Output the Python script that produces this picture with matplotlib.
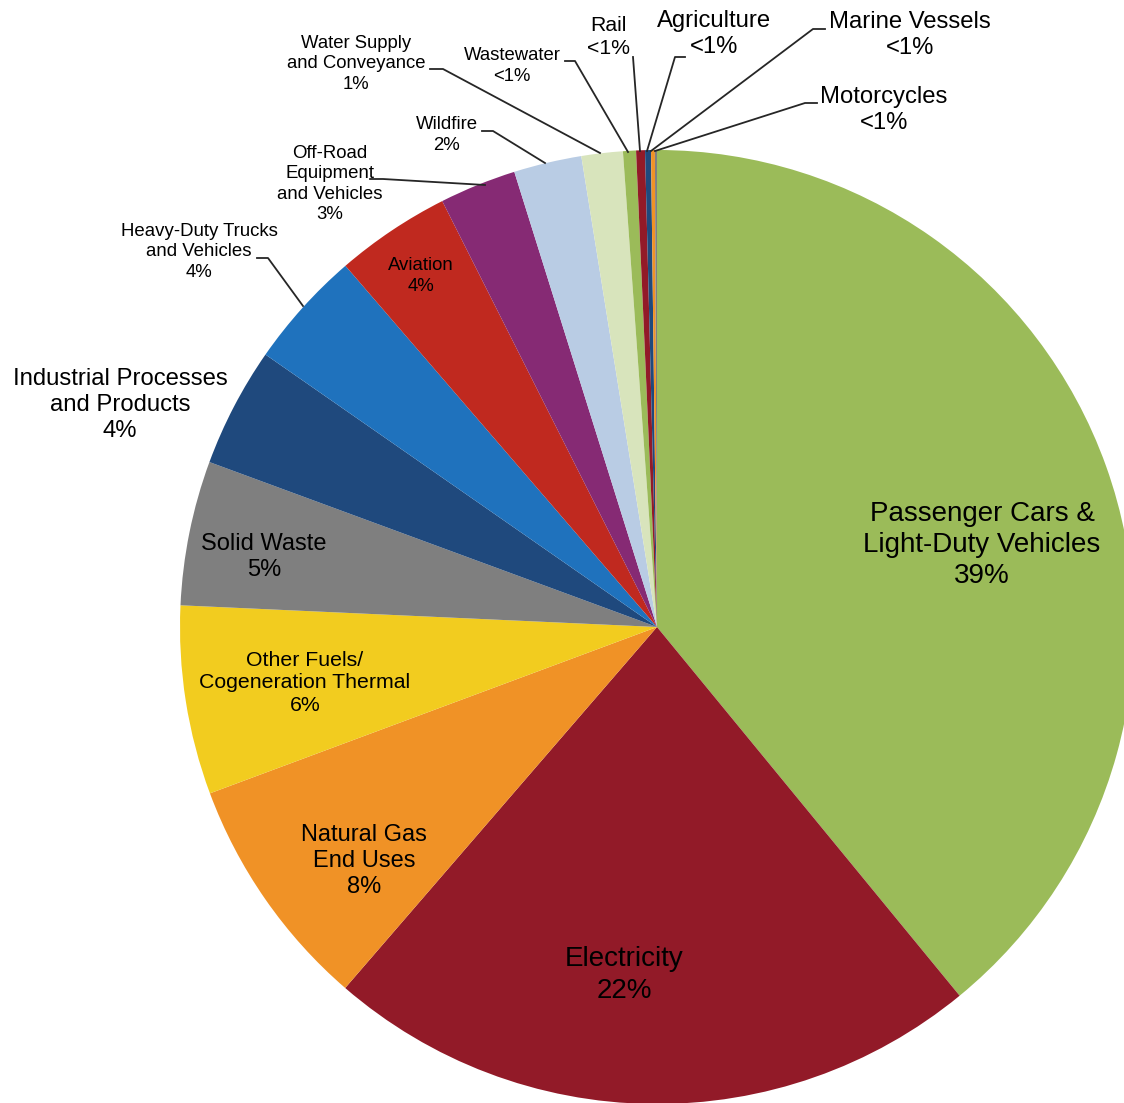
import matplotlib.pyplot as plt
import numpy as np

plt.rcParams['font.family'] = ['Liberation Sans', 'DejaVu Sans']

# Dane
kategorie = ["Passenger Cars &\nLight-Duty Vehicles", "Electricity", "Natural Gas\nEnd Uses",
             "Other Fuels/\nCogeneration Thermal", "Solid Waste", "Industrial Processes\nand Products",
             "Heavy-Duty Trucks\nand Vehicles", "Aviation", "Off-Road\nEquipment\nand Vehicles",
             "Wildfire", "Water Supply\nand Conveyance", "Wastewater", "Rail", "Agriculture",
             "Marine Vessels", "Motorcycles"]
udzial = [39.1, 22.3, 8.0, 6.4, 4.9, 4.06, 4.0, 3.9, 2.6, 2.3, 1.4, 0.44, 0.30, 0.2, 0.13, 0.07]
etykiety_proc = ["39%", "22%", "8%", "6%", "5%", "4%", "4%", "4%", "3%", "2%", "1%",
                 "<1%", "<1%", "<1%", "<1%", "<1%"]
kolory = ["#9BBB59", "#921A28", "#F09226", "#F2CC1F", "#7F7F7F", "#1F497D", "#1F72BD",
          "#C0291F", "#862A74", "#B9CCE4", "#D8E4BC", "#9BBB59", "#921A28", "#1F497D",
          "#F09226", "#7F7F7F"]

# Piksele -> wspolrzedne (srodek kola 657,627, promien 477)
CX, CY, R = 657, 627, 477


def px(x, y):
    return (x - CX) / R, (CY - y) / R


# pozycja etykiety (px), rozmiar czcionki, linia odniesienia (px)
ustawienia = [
    ((982, 545), 20, None),
    ((624, 975), 20, None),
    ((364, 861), 17, None),
    ((305, 683), 15.3, None),
    ((264, 557), 17, None),
    ((120, 405), 17.2, None),
    ((199, 252), 13.4, [(257, 258), (268, 258), (303, 306)]),
    ((421, 276), 13.4, None),
    ((330, 184), 13.4, [(370, 179), (383, 179), (485, 185)]),
    ((447, 135), 13.4, [(482, 131), (493, 131), (545, 163)]),
    ((356, 64), 13.3, [(430, 69), (443, 69), (600, 153)]),
    ((512, 66), 13.3, [(565, 61), (575, 61), (628, 152)]),
    ((608, 37), 15.3, [(633, 57), (640, 151)]),
    ((714, 34), 17.2, [(685, 57), (675, 57), (647, 151)]),
    ((910, 35), 17.2, [(825, 29), (813, 29), (651, 151)]),
    ((884, 110), 17.2, [(817, 103), (805, 103), (655, 151)]),
]

if __name__ == "__main__":
    fig = plt.figure(figsize=(11.24, 11.03), dpi=100)
    ax = fig.add_axes([0, 0, 1, 1])
    ax.pie(udzial, colors=kolory, startangle=90, counterclock=False, radius=1,
           wedgeprops=dict(linewidth=0))

    for nazwa, proc, (poz, rozm, linia) in zip(kategorie, etykiety_proc, ustawienia):
        x, y = px(*poz)
        ax.text(x, y, nazwa + "\n" + proc, ha="center", va="center", fontsize=rozm,
                linespacing=1.25, color="black")
        if linia is not None:
            pts = np.array([px(*p) for p in linia])
            ax.plot(pts[:, 0], pts[:, 1], color="#262626", linewidth=1.3)

    ax.set_aspect("auto")
    ax.set_xlim(-CX / R, (1124 - CX) / R)
    ax.set_ylim((CY - 1103) / R, CY / R)
    ax.axis("off")
    plt.savefig("out.png", dpi=100)
